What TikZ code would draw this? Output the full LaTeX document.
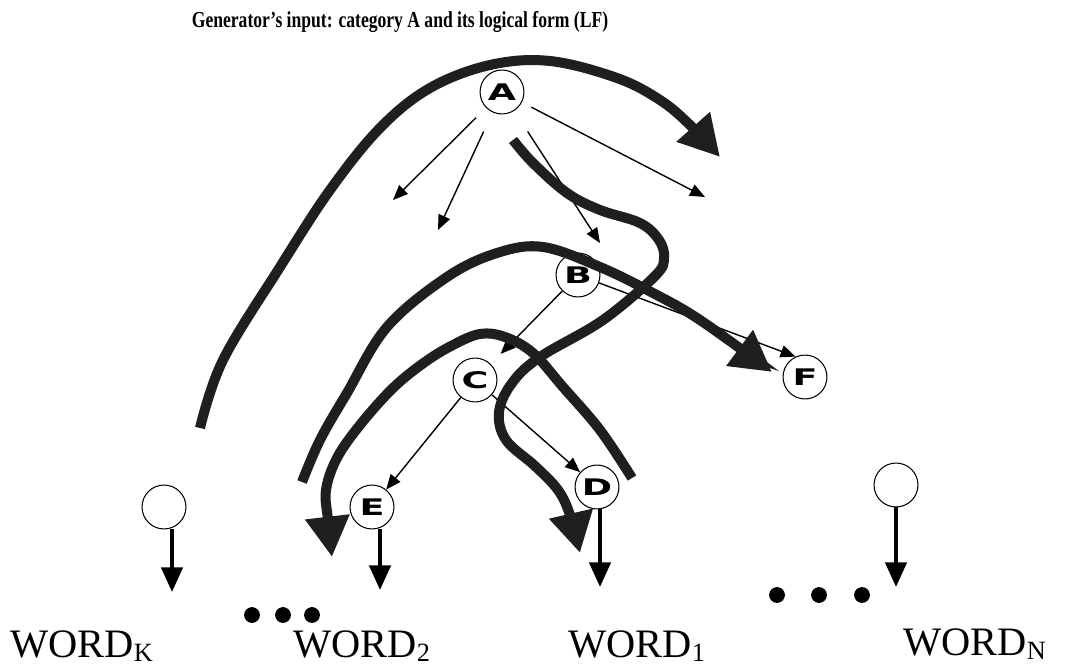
\documentclass[tikz,border=0pt]{standalone}
\usepackage{fontspec}
\setmainfont{Liberation Serif}
\newfontfamily\letterfont{DejaVu Sans}
\usetikzlibrary{arrows.meta}

\newcommand{\catletter}[1]{\scalebox{1.6}[1]{\letterfont\bfseries\fontsize{13}{13}\selectfont #1}}
\newcommand{\wordlabel}[1]{\fontsize{23}{27}\selectfont WORD\raisebox{-0.1em}{\fontsize{15}{15}\selectfont #1}}

\begin{document}
\begin{tikzpicture}[x=0.02cm, y=-0.02cm,
    cat/.style={circle, draw, line width=0.6pt, minimum size=25pt, inner sep=0pt},
    word/.style={anchor=base west, inner sep=0pt},
    branch/.style={line width=0.8pt, -{Triangle[length=8.5pt, width=7pt]}},
    lexarrow/.style={line width=2.3pt, -{Triangle[length=14pt, width=12pt]}},
    route/.style={line width=5.7pt, draw=black!88, -{Triangle[length=23pt, width=24pt]}}]
    \useasboundingbox (0,0) rectangle (1074,668);

    % Title
    \node[anchor=base] (title) at (400,28)
        {\scalebox{0.77}[1]{\bfseries\fontsize{13}{15}\selectfont Generator's input: category A and its logical form (LF)}};

    % Categories
    \node[cat] (A) at (502,92) {\catletter{A}};
    \node[cat] (B) at (578,275) {\catletter{B}};
    \node[cat] (C) at (475,380) {\catletter{C}};
    \node[cat] (D) at (597,487) {\catletter{D}};
    \node[cat] (E) at (372,507) {\catletter{E}};
    \node[cat] (F) at (805,377) {\catletter{F}};
    \node[cat] (K) at (164,507) {};
    \node[cat] (N) at (896,485) {};

    % Words
    \node[word] (wK) at (10,657) {\wordlabel{K}};
    \node[word] (w2) at (293,657) {\wordlabel{2}};
    \node[word] (w1) at (568,657) {\wordlabel{1}};
    \node[word] (wN) at (903,655) {\wordlabel{N}};

    % Dots
    \foreach \x in {252,283,312}
        \fill (\x,615) circle (4.5pt);
    \foreach \x in {777,819,862}
        \fill (\x,595) circle (4.5pt);

    % Daughters of A
    \coordinate (a1) at (393,200);
    \coordinate (a2) at (438,230);
    \coordinate (a3) at (600,243);
    \coordinate (a4) at (705,197);
    \draw[branch, shorten <=8pt] (A) -- (a1);
    \draw[branch, shorten <=12pt] (A) -- (a2);
    \draw[branch, shorten <=14pt] (A) -- (a3);
    \draw[branch, shorten <=6pt] (A) -- (a4);

    % Other branches
    \draw[branch, shorten >=8pt] (B) -- (C);
    \draw[branch] (B) -- (F.115);
    \draw[branch] (C) -- (D);
    \draw[branch] (C) -- (E);

    % Lexical items
    \coordinate (tK) at (172,592);
    \coordinate (t2) at (380,590);
    \coordinate (t1) at (600,587);
    \coordinate (tN) at (896,587);
    \draw[lexarrow] (K.south -| tK) -- (tK);
    \draw[lexarrow] (E.south -| t2) -- (t2);
    \draw[lexarrow] (D.south -| t1) -- (t1);
    \draw[lexarrow] (N.south) -- (tN);

    % Generation route
    \draw[route] plot[smooth, tension=0.6] coordinates {(200,428) (223,360) (280,267) (330,190) (380,128) (430,88) (490,65) (550,61) (617,78) (660,100) (690,125) (720,157)};
    \draw[route] plot[smooth, tension=0.6] coordinates {(513,140) (533,163) (567,193) (600,210) (640,223) (659,240) (664,258) (655,276) (603,320) (540,357) (512,383) (499,412) (506,440) (535,466) (558,490) (570,515) (580,553)};
    \draw[route] plot[smooth, tension=0.6] coordinates {(302,482) (320,440) (347,393) (387,327) (447,277) (497,253) (543,247) (600,267) (653,293) (700,320) (772,372)};
    \draw[route] plot[smooth, tension=0.6] coordinates {(632,478) (600,430) (563,387) (533,353) (505,337) (480,334) (453,345) (425,362) (393,388) (360,425) (337,458) (326,490) (328,520) (332,557)};

\end{tikzpicture}
\end{document}
